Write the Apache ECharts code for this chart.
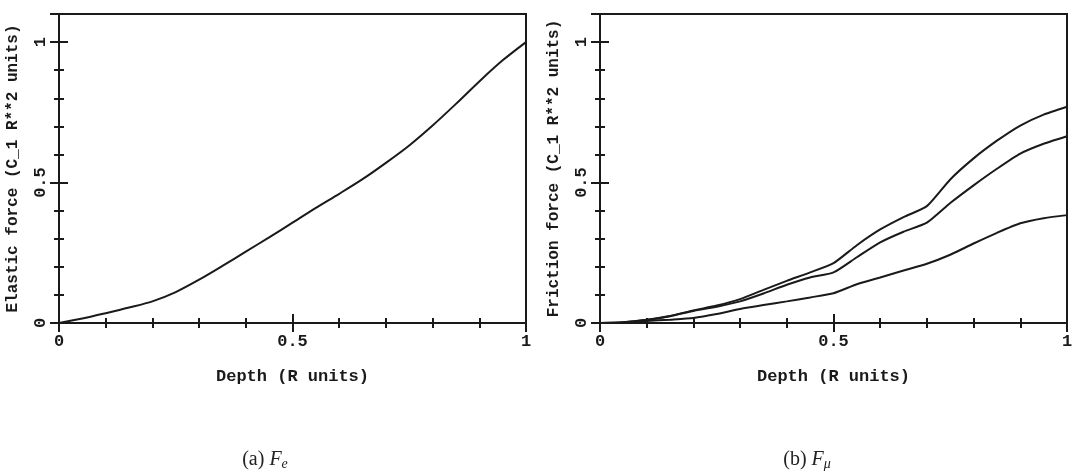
<!DOCTYPE html>
<html>
<head>
<meta charset="utf-8">
<script src="https://cdn.jsdelivr.net/npm/echarts@6/dist/echarts.min.js"></script>
<style>
  html, body { margin: 0; padding: 0; background: #fff; }
  #main { width: 1081px; height: 474px; }
</style>
</head>
<body>
<div id="main"></div>
<script>
// depth values (R units), shared by both panels
var depth = [0, 0.05, 0.1, 0.15, 0.2, 0.25, 0.3, 0.35, 0.4, 0.45, 0.5,
             0.55, 0.6, 0.65, 0.7, 0.75, 0.8, 0.85, 0.9, 0.95, 1];
// (a) elastic force
var elastic = [0, 0.016, 0.035, 0.055, 0.077, 0.11, 0.154, 0.203, 0.254, 0.305, 0.357,
               0.41, 0.46, 0.512, 0.57, 0.632, 0.703, 0.78, 0.86, 0.935, 1];
// (b) friction force, three curves
var frictionHigh = [0, 0.003, 0.012, 0.025, 0.045, 0.062, 0.085, 0.118, 0.15, 0.18, 0.213,
                    0.277, 0.333, 0.377, 0.416, 0.511, 0.586, 0.649, 0.703, 0.742, 0.77];
var frictionMid = [0, 0.003, 0.011, 0.024, 0.043, 0.058, 0.077, 0.105, 0.136, 0.162, 0.18,
                   0.234, 0.287, 0.325, 0.357, 0.427, 0.49, 0.549, 0.603, 0.638, 0.665];
var frictionLow = [0, 0.001, 0.007, 0.012, 0.018, 0.032, 0.05, 0.064, 0.077, 0.091, 0.106,
                   0.138, 0.162, 0.187, 0.211, 0.243, 0.283, 0.321, 0.355, 0.373, 0.384];
var xTicks = [0, 0.5, 1];
var yTicks = [0, 0.5, 1];

var ink = '#1a1a1a';
var mono = 'Liberation Mono';
var lblStyle = {fontFamily: mono, fontWeight: 'bold', fontSize: 17, color: ink};
var yNameStyle = {fontFamily: mono, fontWeight: 'bold', fontSize: 16, color: ink};

function pairs(vals){
    var out = [];
    for(var i=0;i<depth.length;i++){
        out.push([depth[i], vals[i]]);
    }
    return out;
}
function fmt(v){
    for(var i=0;i<xTicks.length;i++){
        if(Math.abs(v - xTicks[i]) < 1e-6) return String(xTicks[i]);
    }
    return '';
}

var grids = [
    {left: 59, top: 14, width: 467, height: 309},
    {left: 600, top: 14, width: 467, height: 309}
];
var yNames = ['Elastic force (C_1 R**2 units)', 'Friction force (C_1 R**2 units)'];

var xAxes = [], yAxes = [];
for(var g=0;g<2;g++){
    grids[g].show = true;
    grids[g].borderColor = ink;
    grids[g].borderWidth = 2;
    // x: bottom major with labels, bottom minor, top major, top minor
    xAxes.push({
        type: 'value', gridIndex: g, position: 'bottom', min: 0, max: 1, interval: 0.5,
        name: 'Depth (R units)', nameLocation: 'middle', nameGap: 45,
        nameTextStyle: lblStyle,
        axisLine: {show: false}, splitLine: {show: false},
        axisTick: {inside: true, length: 9, lineStyle: {color: ink, width: 2}},
        axisLabel: Object.assign({margin: 10, formatter: fmt}, lblStyle)
    });
    xAxes.push({
        type: 'value', gridIndex: g, position: 'bottom', min: 0, max: 1, interval: 0.1,
        axisLine: {show: false}, splitLine: {show: false}, axisLabel: {show: false},
        axisTick: {inside: true, length: 5, lineStyle: {color: ink, width: 2}}
    });
    xAxes.push({
        type: 'value', gridIndex: g, position: 'top', min: 0, max: 1, interval: 0.5,
        axisLine: {show: false}, splitLine: {show: false}, axisLabel: {show: false},
        axisTick: {inside: true, length: 9, lineStyle: {color: ink, width: 2}}
    });
    xAxes.push({
        type: 'value', gridIndex: g, position: 'top', min: 0, max: 1, interval: 0.1,
        axisLine: {show: false}, splitLine: {show: false}, axisLabel: {show: false},
        axisTick: {inside: true, length: 5, lineStyle: {color: ink, width: 2}}
    });
    yAxes.push({
        type: 'value', gridIndex: g, position: 'left', min: 0, max: 1.1, interval: 0.5,
        name: yNames[g], nameLocation: 'middle', nameGap: 38, nameRotate: 90,
        nameTextStyle: yNameStyle,
        axisLine: {show: false}, splitLine: {show: false},
        axisTick: {inside: true, length: 9, lineStyle: {color: ink, width: 2}},
        axisLabel: Object.assign({margin: 10, rotate: 90, showMaxLabel: false, formatter: fmt}, lblStyle)
    });
    yAxes.push({
        type: 'value', gridIndex: g, position: 'left', min: 0, max: 1.1, interval: 0.1,
        axisLine: {show: false}, splitLine: {show: false}, axisLabel: {show: false},
        axisTick: {inside: true, length: 5, lineStyle: {color: ink, width: 2}}
    });
    yAxes.push({
        type: 'value', gridIndex: g, position: 'right', min: 0, max: 1.1, interval: 0.5,
        axisLine: {show: false}, splitLine: {show: false}, axisLabel: {show: false},
        axisTick: {inside: true, length: 9, lineStyle: {color: ink, width: 2}}
    });
    yAxes.push({
        type: 'value', gridIndex: g, position: 'right', min: 0, max: 1.1, interval: 0.1,
        axisLine: {show: false}, splitLine: {show: false}, axisLabel: {show: false},
        axisTick: {inside: true, length: 5, lineStyle: {color: ink, width: 2}}
    });
}

function lineSeries(vals, g, sm){
    return {
        type: 'line', xAxisIndex: g*4, yAxisIndex: g*4, data: pairs(vals),
        showSymbol: false, smooth: sm, silent: true,
        lineStyle: {color: ink, width: 2}
    };
}

var capRich = {
    n: {fontFamily: 'Liberation Serif', fontSize: 20, fontWeight: 'normal', color: '#222'},
    i: {fontFamily: 'Liberation Serif', fontSize: 20, fontWeight: 'normal', fontStyle: 'italic', color: '#222'},
    s: {fontFamily: 'Liberation Serif', fontSize: 14, fontWeight: 'normal', fontStyle: 'italic', color: '#222', padding: [9, 0, 0, 0]}
};

var chart = echarts.init(document.getElementById('main'));
chart.setOption({
    animation: false,
    backgroundColor: '#fff',
    title: [
        {text: '{n|(a) }{i|F}{s|e}', left: 260, top: 443, textAlign: 'center', textStyle: {fontWeight: 'normal', rich: capRich}},
        {text: '{n|(b) }{i|F}{s|μ}', left: 802, top: 443, textAlign: 'center', textStyle: {fontWeight: 'normal', rich: capRich}}
    ],
    grid: grids,
    xAxis: xAxes,
    yAxis: yAxes,
    series: [
        lineSeries(elastic, 0, 0.3),
        lineSeries(frictionHigh, 1, 0.2),
        lineSeries(frictionMid, 1, 0.2),
        lineSeries(frictionLow, 1, 0.2)
    ]
});
</script>
</body>
</html>
